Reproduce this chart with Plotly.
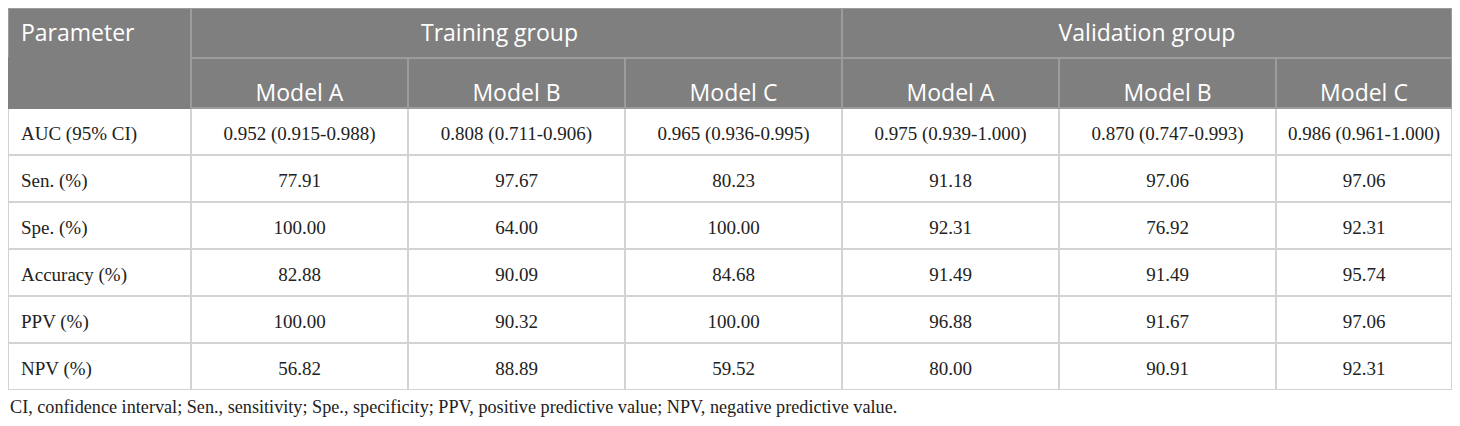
import plotly.graph_objects as go

# table content
groups = ["Training group", "Validation group"]
models = ["Model A", "Model B", "Model C"]
parameters = ["AUC (95% CI)", "Sen. (%)", "Spe. (%)", "Accuracy (%)", "PPV (%)", "NPV (%)"]

train_a = ["0.952 (0.915-0.988)", "77.91", "100.00", "82.88", "100.00", "56.82"]
train_b = ["0.808 (0.711-0.906)", "97.67", "64.00", "90.09", "90.32", "88.89"]
train_c = ["0.965 (0.936-0.995)", "80.23", "100.00", "84.68", "100.00", "59.52"]
valid_a = ["0.975 (0.939-1.000)", "91.18", "92.31", "91.49", "96.88", "80.00"]
valid_b = ["0.870 (0.747-0.993)", "97.06", "76.92", "91.49", "91.67", "90.91"]
valid_c = ["0.986 (0.961-1.000)", "97.06", "92.31", "95.74", "97.06", "92.31"]

footnote = ("CI, confidence interval; Sen., sensitivity; Spe., specificity; "
            "PPV, positive predictive value; NPV, negative predictive value.")

# the page body keeps its default 8px margin, so the figure is a bit smaller
W, H = 1452, 418
table_w = 1444
col_w = [183, 217, 217, 217, 217, 217, 176]
head1_h, head2_h, row_h = 50, 50, 47
n_rows = len(parameters)

header_fill = "#7f7f7f"
header_line = "#9c9c9c"
grid = "#d3d3d3"
clear = "rgba(0,0,0,0)"
sans = "Open Sans"
serif = "Liberation Serif"
head_font = {"family": sans, "size": 23, "color": "white"}
body_font = {"family": serif, "size": 19, "color": "#222222"}

# plotly puts cell text near the top, these push it down to the reference spot
shift_h1, shift_h2, shift_body = 8, 18, 10
pad_left = 5


def ydom(top_px, bottom_px):
    return [1 - bottom_px / H, 1 - top_px / H]


xdom = [0, table_w / W]
body_bottom = head1_h + head2_h + row_h * n_rows

# ---- background: fills and lines, no text
grid_top = go.Table(
    domain={"x": xdom, "y": ydom(0, head1_h)},
    columnwidth=[col_w[0], sum(col_w[1:4]), sum(col_w[4:])],
    header={
        "values": ["", "", ""],
        "height": head1_h,
        "fill": {"color": header_fill},
        "line": {"color": header_line, "width": 2},
    },
    cells={"values": [[], [], []], "height": 0},
)

grid_main = go.Table(
    domain={"x": xdom, "y": ydom(head1_h, body_bottom)},
    columnwidth=col_w,
    header={
        "values": [""] * 7,
        "height": head2_h,
        "fill": {"color": header_fill},
        "line": {"color": [header_fill] + [header_line] * 6, "width": 2},
    },
    cells={
        "values": [[""] * n_rows for _ in col_w],
        "height": row_h,
        "fill": {"color": "white"},
        "line": {"color": grid, "width": 2},
    },
)

# ---- text layers, transparent
train_span = 617
text_top = go.Table(
    domain={"x": xdom, "y": ydom(shift_h1, shift_h1 + head1_h)},
    columnwidth=[pad_left, col_w[0] - pad_left, train_span,
                 sum(col_w[1:4]) - train_span, sum(col_w[4:])],
    header={
        "values": ["", "Parameter", groups[0], "", groups[1]],
        "height": head1_h,
        "fill": {"color": clear},
        "line": {"color": clear, "width": 0},
        "font": head_font,
        "align": ["left", "left", "center", "center", "center"],
    },
    cells={"values": [[], [], [], [], []], "height": 0},
)

t2_top = head1_h + shift_h2
t2_head = head2_h - (shift_h2 - shift_body)
text_main = go.Table(
    domain={"x": xdom, "y": ydom(t2_top, t2_top + t2_head + row_h * n_rows)},
    columnwidth=[pad_left, col_w[0] - pad_left] + col_w[1:],
    header={
        "values": ["", ""] + models * 2,
        "height": t2_head,
        "fill": {"color": clear},
        "line": {"color": clear, "width": 0},
        "font": head_font,
        "align": "center",
    },
    cells={
        "values": [[""] * n_rows, parameters, train_a, train_b, train_c,
                   valid_a, valid_b, valid_c],
        "height": row_h,
        "fill": {"color": clear},
        "line": {"color": clear, "width": 0},
        "font": body_font,
        "align": ["left", "left"] + ["center"] * 6,
    },
)

fig = go.Figure(data=[grid_top, grid_main, text_top, text_main])
fig.add_annotation(
    text=footnote, xref="paper", yref="paper", x=0, y=1 - 399 / H,
    xanchor="left", yanchor="middle", showarrow=False,
    font={"family": serif, "size": 18.2, "color": "#222222"},
)
fig.update_layout(
    width=W, height=H,
    margin={"l": 0, "r": 0, "t": 0, "b": 0},
    paper_bgcolor="white", plot_bgcolor="white",
)

fig.write_html("out.html")
